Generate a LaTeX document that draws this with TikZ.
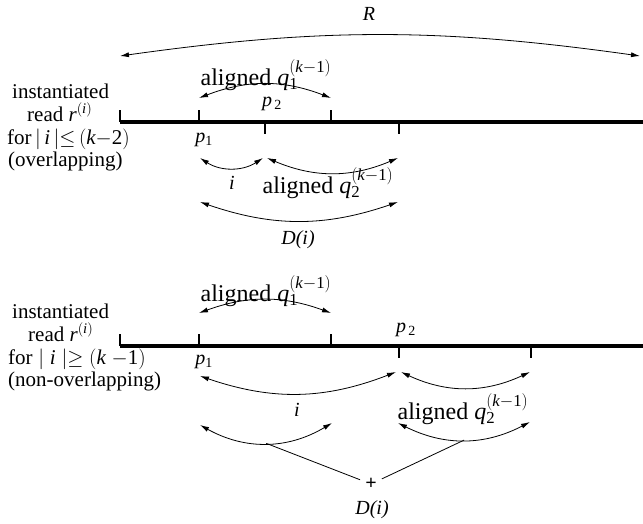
\documentclass[tikz,border=0pt]{standalone}
\usepackage{mathspec}
\setmainfont{Liberation Serif}
\setmathsfont(Digits,Latin){Liberation Serif}
\usetikzlibrary{arrows.meta}
\tikzset{>={Latex[length=9pt,width=5pt]}}
\tikzset{
  readBar/.style={draw=black,line width=4.5pt},
  tickLine/.style={draw=black,line width=2.2pt},
  spanArrow/.style={draw=black,<->,line width=0.8pt},
  joinLine/.style={draw=black,-,line width=0.8pt},
  leftText/.style={anchor=north west,inner sep=0pt,align=left,font=\fontsize{21}{22.7}\selectfont},
  alignLabel/.style={inner sep=0pt,font=\fontsize{24}{26}\selectfont},
  posLabel/.style={inner sep=0pt,font=\fontsize{20}{22}\selectfont}
}

\begin{document}
\begin{tikzpicture}[x=1pt,y=-1pt]
        \useasboundingbox (0,0) rectangle (643,524);

        % upper read: overlapping
        \coordinate (a0) at (120,122);
        \coordinate (a1) at (199,122);
        \coordinate (a2) at (265,122);
        \coordinate (a3) at (331,122);
        \coordinate (a4) at (399,122);
        \coordinate (aEnd) at (643,122);
        \draw[readBar] (a0) -- (aEnd);
        \draw[tickLine] (a0) -- ++(0,-12);
        \draw[tickLine] (a1) -- ++(0,-12);
        \draw[tickLine] (a2) -- ++(0,12);
        \draw[tickLine] (a3) -- ++(0,-12);
        \draw[tickLine] (a4) -- ++(0,12);

        \node[leftText] (readA) at (7,84) {\hspace*{5pt}instantiated\\
          \hspace*{20pt}read $r^{(i)}$\\
          for$\,|\,i\,|{\leq}\,(k{-}2)$\\
          \hspace*{1pt}(overlapping)};

        \coordinate (rL) at (120,56);
        \coordinate (rR) at (640,56);
        \coordinate (qaL) at (199,98);
        \coordinate (qaR) at (331,98);
        \coordinate (iaL) at (200,158);
        \coordinate (iaR) at (263,158);
        \coordinate (qbL) at (267,158);
        \coordinate (qbR) at (398,158);
        \coordinate (daL) at (200,202);
        \coordinate (daR) at (398,202);

        \path
    (rL) edge [spanArrow, bend left=8] (rR)
    (qaL) edge [spanArrow, bend left=21] (qaR)
    (iaL) edge [spanArrow, bend right=33] (iaR)
    (qbL) edge [spanArrow, bend right=23] (qbR)
    (daL) edge [spanArrow, bend right=19] (daR);

        \node[posLabel] (R) at (369,14) {$R$};
        \node[alignLabel] (qOneA) at (266,75) {aligned $q_1^{(k-1)}$};
        \node[posLabel] (pTwoA) at (272,104) {$p_{\,2}$};
        \node[posLabel] (pOneA) at (204,140) {$p_1$};
        \node[posLabel] (iA) at (232,183) {$i$};
        \node[alignLabel] (qTwoA) at (328,183) {aligned $q_2^{(k-1)}$};
        \node[posLabel] (dA) at (298,240) {\textit{D(i)}};

        % lower read: non-overlapping
        \coordinate (b0) at (120,346);
        \coordinate (b1) at (199,346);
        \coordinate (b2) at (331,346);
        \coordinate (b3) at (399,346);
        \coordinate (b4) at (531,346);
        \coordinate (bEnd) at (643,346);
        \draw[readBar] (b0) -- (bEnd);
        \draw[tickLine] (b0) -- ++(0,-12);
        \draw[tickLine] (b1) -- ++(0,-12);
        \draw[tickLine] (b2) -- ++(0,-12);
        \draw[tickLine] (b3) -- ++(0,12);
        \draw[tickLine] (b4) -- ++(0,12);

        \node[leftText] (readB) at (8,304) {\hspace*{4pt}instantiated\\
          \hspace*{20pt}read $r^{(i)}$\\
          for$\;|\;i\;|{\geq}\;(k\;{-}1)$\\
          (non-overlapping)};

        \coordinate (qcL) at (199,313);
        \coordinate (qcR) at (331,313);
        \coordinate (icL) at (200,376);
        \coordinate (icR) at (396,372);
        \coordinate (qdL) at (401,372);
        \coordinate (qdR) at (530,372);
        \coordinate (sL) at (200,425);
        \coordinate (sR) at (332,423);
        \coordinate (tL) at (398,423);
        \coordinate (tR) at (530,422);

        \path
    (qcL) edge [spanArrow, bend left=20] (qcR)
    (icL) edge [spanArrow, bend right=20] (icR)
    (qdL) edge [spanArrow, bend right=25] (qdR);
        \draw[spanArrow] (sL) to[bend right=30] coordinate[pos=0.5] (sMid) (sR);
        \draw[spanArrow] (tL) to[bend right=27] coordinate[pos=0.5] (tMid) (tR);

        \node[alignLabel] (qOneB) at (266,291) {aligned $q_1^{(k-1)}$};
        \node[posLabel] (pTwoB) at (406,330) {$p_{\,2}$};
        \node[posLabel] (pOneB) at (204,362) {$p_1$};
        \node[posLabel] (iB) at (297,410) {$i$};
        \node[alignLabel] (qTwoB) at (463,409) {aligned $q_2^{(k-1)}$};
        \node[posLabel, inner sep=5pt] (plus) at (371,484) {\textbf{+}};
        \node[posLabel] (dB) at (372,510) {\textit{D(i)}};

         \path
    (sMid) edge [joinLine] (plus)
    (tMid) edge [joinLine] (plus);

\end{tikzpicture}
\end{document}
